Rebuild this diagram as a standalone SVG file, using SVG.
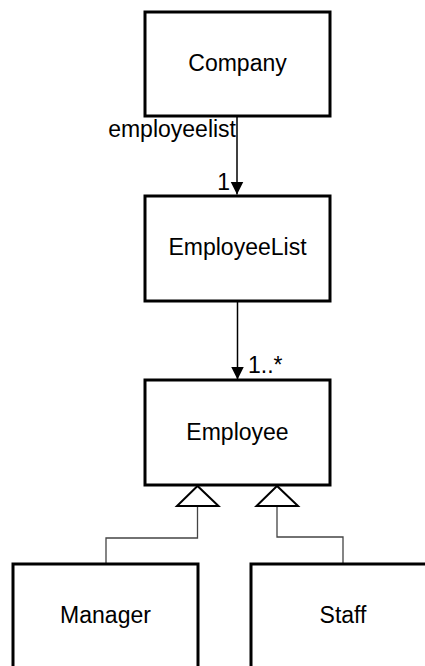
<svg xmlns="http://www.w3.org/2000/svg" width="425" height="666" viewBox="0 0 425 666">
<style>
.box{fill:#fff;stroke:#000;stroke-width:3}
.lbl{font-family:"Liberation Sans",Arial,sans-serif;font-size:23px;fill:#000}
.mid{text-anchor:middle}
.assoc{fill:none;stroke:#000;stroke-width:1.5}
.gen{fill:none;stroke:#444;stroke-width:1.3}
.tri{fill:#fff;stroke:#000;stroke-width:2}
</style>
<defs>
<marker id="arr" markerUnits="userSpaceOnUse" markerWidth="16" markerHeight="16" viewBox="0 0 16 16" refX="13" refY="7" orient="auto">
<path d="M0,0.5 L13,7 L0,13.5 Z" fill="#000"/>
</marker>
</defs>
<rect width="425" height="666" fill="#fff"/>
<g id="connectors">
<line class="assoc" x1="237" y1="116" x2="237" y2="194.5" marker-end="url(#arr)"/>
<text class="lbl" x="236" y="137" text-anchor="end">employeelist</text>
<text class="lbl" x="230" y="190" text-anchor="end">1</text>
<line class="assoc" x1="237.5" y1="301" x2="237.5" y2="379.5" marker-end="url(#arr)"/>
<text class="lbl" x="248" y="373">1..*</text>
<polyline class="gen" points="106,564 106,538 197.5,538 197.5,506"/>
<polyline class="gen" points="343,564 343,537 277,537 277,506"/>
<polygon class="tri" points="197.5,486 177,506 218.5,506"/>
<polygon class="tri" points="277,486 256.5,506 298,506"/>
</g>
<g id="company">
<rect class="box" x="145" y="12" width="185" height="104"/>
<text class="lbl mid" x="237.5" y="71">Company</text>
</g>
<g id="employeelist">
<rect class="box" x="145" y="196" width="185" height="105"/>
<text class="lbl mid" x="237.5" y="255">EmployeeList</text>
</g>
<g id="employee">
<rect class="box" x="145" y="380" width="185" height="105"/>
<text class="lbl mid" x="237.5" y="440">Employee</text>
</g>
<g id="manager">
<rect class="box" x="13" y="564" width="185" height="110"/>
<text class="lbl mid" x="105.5" y="623">Manager</text>
</g>
<g id="staff">
<rect class="box" x="251" y="564" width="185" height="110"/>
<text class="lbl mid" x="343" y="623">Staff</text>
</g>
</svg>
